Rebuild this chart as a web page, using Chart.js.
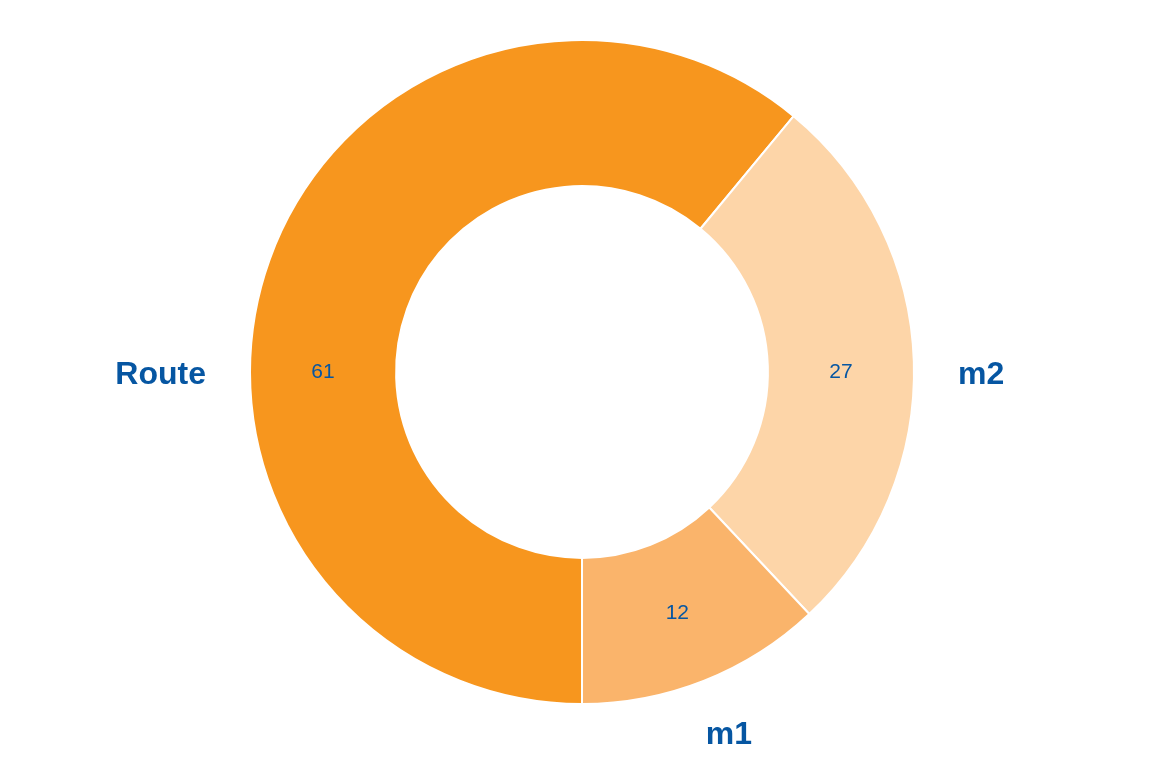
<!DOCTYPE html>
<html>
<head>
<meta charset="utf-8">
<script src="https://cdn.jsdelivr.net/npm/chart.js@4"></script>
<style>
    html, body { margin: 0; padding: 0; background: #fff; }
    #wrap { width: 1176px; height: 782px; }
</style>
</head>
<body>
<div id="wrap"><canvas id="chart"></canvas></div>
<script>
const categories = ["Route", "m2", "m1"];
const values = [61, 27, 12];
const sliceColors = ["#F7961E", "#FDD5A8", "#FAB46B"];
const textBlue = "#0656A2";

// value inside ring + category name outside
const sliceLabels = {
    id: "sliceLabels",
    afterDatasetsDraw(chart) {
        const ctx = chart.ctx;
        const meta = chart.getDatasetMeta(0);
        ctx.save();
        meta.data.forEach((arc, i) => {
            const p = arc.getProps(["x", "y", "startAngle", "endAngle", "innerRadius", "outerRadius"], true);
            // snap to 3 / 9 o'clock when the slice covers it
            let ang = (p.startAngle + p.endAngle) / 2;
            for (let k = -2; k <= 4; k++) {
                const a = k * Math.PI;
                if (a >= p.startAngle && a <= p.endAngle) { ang = a; break; }
            }
            const c = Math.cos(ang), s = Math.sin(ang);

            const rMid = (p.innerRadius + p.outerRadius) / 2;
            ctx.fillStyle = textBlue;
            ctx.font = "21px 'Liberation Sans', Arial, sans-serif";
            ctx.textAlign = "center";
            ctx.textBaseline = "middle";
            ctx.fillText(String(values[i]), p.x + c * rMid, p.y + s * rMid);

            const rOut = p.outerRadius + 44;
            const px = p.x + c * rOut, py = p.y + s * rOut;
            ctx.font = "bold 32px 'Liberation Sans', Arial, sans-serif";
            const w = ctx.measureText(categories[i]).width;
            const h = 23;
            const left = px + (c - 1) / 2 * w;
            const top = py + (s - 1) / 2 * h;
            ctx.textAlign = "left";
            ctx.textBaseline = "alphabetic";
            ctx.fillText(categories[i], left, top + h);
        });
        ctx.restore();
    }
};

new Chart(document.getElementById("chart"), {
    type: "doughnut",
    data: {
        labels: categories,
        datasets: [{
            data: values,
            backgroundColor: sliceColors,
            borderColor: "#ffffff",
            borderWidth: 2,
            hoverOffset: 0
        }]
    },
    options: {
        responsive: true,
        maintainAspectRatio: false,
        animation: false,
        rotation: 180,
        cutout: "56%",
        layout: {
            padding: { top: 39, bottom: 77, left: 0, right: 12 }
        },
        plugins: {
            legend: { display: false },
            tooltip: { enabled: false }
        }
    },
    plugins: [sliceLabels]
});
</script>
</body>
</html>
